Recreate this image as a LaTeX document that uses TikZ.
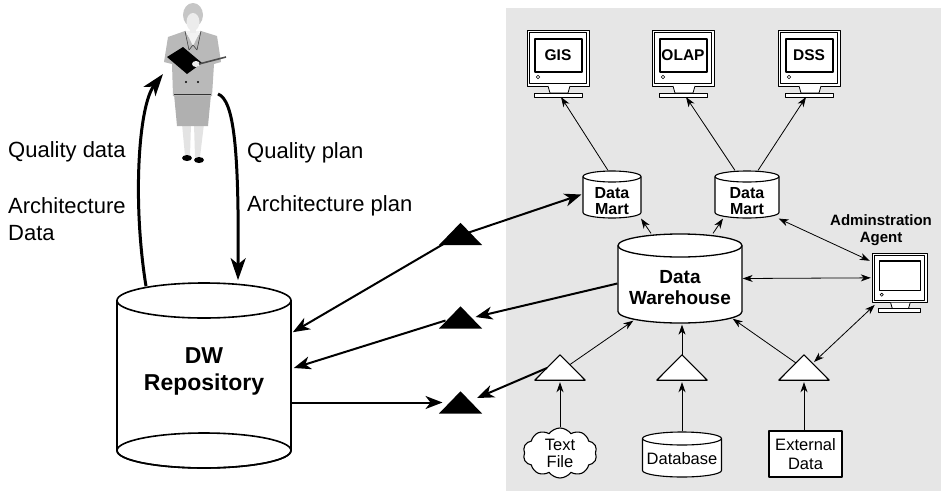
\documentclass[tikz,border=0pt]{standalone}
\usepackage{fontspec}
\setmainfont{Liberation Sans}
\usetikzlibrary{arrows.meta,shapes.symbols,calc}

\definecolor{panel}{HTML}{E6E6E6}

\tikzset{
  outline/.style={line width=1.1pt},
  lbl/.style={inner sep=0pt, font=\fontsize{22}{27}\selectfont},
  thinarrow/.style={line width=0.8pt,-{Stealth[length=10pt,width=7pt,inset=3pt]}},
  thinboth/.style={line width=0.8pt,{Stealth[length=10pt,width=7pt,inset=3pt]}-{Stealth[length=10pt,width=7pt,inset=3pt]}},
  heavyarrow/.style={line width=2pt,-{Stealth[length=17pt,width=13pt,inset=5pt]}},
  heavyboth/.style={line width=2pt,{Stealth[length=17pt,width=13pt,inset=5pt]}-{Stealth[length=17pt,width=13pt,inset=5pt]}},
  heavyplain/.style={line width=2pt},
  curvearrow/.style={line width=3pt,-{Stealth[length=22pt,width=15pt,inset=6pt]}},
  hub/.style={inner sep=0pt, minimum width=50pt, minimum height=25pt},
  relay/.style={inner sep=0pt, minimum width=43pt, minimum height=22pt},
}

% vertical drum: name, centre x, centre y, x radius, half height, y radius of the lids
\newcommand\drum[6]{%
  \filldraw[fill=white] ({#2-#4},{#3-#5+#6}) -- ({#2-#4},{#3+#5-#6})
     arc[start angle=180,end angle=0,x radius=#4,y radius=#6]
     -- ({#2+#4},{#3-#5+#6})
     arc[start angle=0,end angle=-180,x radius=#4,y radius=#6] -- cycle;
  \draw ({#2-#4},{#3-#5+#6}) arc[start angle=180,end angle=0,x radius=#4,y radius=#6];
  \node[inner sep=0pt,minimum width={2*#4pt},minimum height={2*#5pt}] (#1) at (#2,#3) {};
}

% desktop monitor: name, left x, top y, scale, screen text
\newcommand\monitor[5]{%
  \begin{scope}[shift={(#2,#3)},scale=#4]
    \draw[fill=white,line width=1pt] (0,0) rectangle (62,56);
    \draw[line width=0.6pt] (2.5,2.5) rectangle (59.5,53.5);
    \draw[line width=1.2pt] (8,9) rectangle (55,42);
    \draw[line width=0.6pt] (11,47) circle[radius=1.8];
    \draw[fill=white,line width=0.8pt] (21,56) -- (23,63) -- (41,63) -- (43,56);
    \draw[fill=white,line width=0.8pt] (7,63) rectangle (55,67);
    \node[inner sep=0pt,minimum width={62pt*#4},minimum height={56pt*#4}] (#1) at (31,28) {};
    \coordinate (#1-b) at (31,67);
    \node[font=\bfseries\fontsize{15.5}{16}\selectfont] at (31,25.5) {#5};
  \end{scope}}

\begin{document}
\begin{tikzpicture}[x=1pt,y=-1pt,line join=round]
\useasboundingbox (0,0) rectangle (942,493);

% grey panel behind the warehouse side
\fill[panel] (506,8) rectangle (941,491);

% the quality manager
\node[inner sep=0pt,minimum width=62pt,minimum height=160pt] (person) at (194,82) {};
\begin{scope}
  \fill[gray!22] (182,124) -- (191,124) -- (190,156) -- (185,156) -- cycle;
  \fill[gray!22] (194,124) -- (204,124) -- (200,157) -- (195,157) -- cycle;
  \fill[black] (187,158) ellipse[x radius=5,y radius=3];
  \fill[black] (199,160) ellipse[x radius=5,y radius=3];
  \fill[gray!62] (174,94) -- (211,94) -- (208,126) -- (177,126) -- cycle;
  \fill[gray!55] (168,37) -- (185,31) -- (193,44) -- (201,31) -- (217,36) -- (221,62)
     -- (214,64) -- (212,96) -- (173,96) -- (172,64) -- (164,62) -- cycle;
  \fill[gray!10] (186,31) -- (200,31) -- (193,46) -- cycle;
  \draw[gray!40!black,line width=0.5pt] (185,31) -- (189,50) -- (193,45) -- (197,50) -- (201,31);
  \draw[gray!40!black,line width=0.5pt] (174,94) -- (211,94);
  \fill[gray!45] (193,15) ellipse[x radius=10,y radius=12];
  \fill[gray!15] (193,22) ellipse[x radius=6.5,y radius=9];
  \fill[gray!15] (190,28) rectangle (196,33);
  \fill[black] (167,57) -- (183,47) -- (202,63) -- (187,74) -- cycle;
  \fill[gray!15] (196,64) ellipse[x radius=4,y radius=3];
  \draw[gray!60!black,line width=1.6pt] (199,64) -- (226,57);
  \fill (186,82) circle[radius=1.1];
  \fill (198,82) circle[radius=1.1];
\end{scope}

% labels of the two loops
\node[lbl,anchor=west] (qd) at (8,152) {Quality data};
\node[lbl,anchor=west,align=left] (ad) at (8,219.5) {Architecture\\Data};
\node[lbl,anchor=west] (qp) at (247,153) {Quality plan};
\node[lbl,anchor=west] (ap) at (247,206) {Architecture plan};

% repository
\begin{scope}[line width=1.6pt]
  \drum{repo}{204}{375.5}{87}{92.5}{17.5}
  \draw (204,450.5) ellipse[x radius=87,y radius=17.5];
\end{scope}
\node[font=\bfseries\fontsize{23}{27}\selectfont,align=center] at (204,371.5) {DW\\Repository};

% warehouse and marts
\begin{scope}[line width=1.3pt]
  \drum{dw}{680}{278.5}{62}{44.5}{11.5}
\end{scope}
\node[font=\bfseries\fontsize{19}{21}\selectfont,align=center] at (680,288) {Data\\Warehouse};
\begin{scope}[outline]
  \drum{dml}{612}{194.5}{29}{23.5}{5.5}
  \drum{dmr}{747}{194.5}{32}{23.5}{5.5}
  \drum{db}{682}{454.5}{39.5}{22.5}{6.5}
\end{scope}
\node[font=\bfseries\fontsize{16}{16}\selectfont,align=center] at (612,201) {Data\\Mart};
\node[font=\bfseries\fontsize{16}{16}\selectfont,align=center] at (747,201) {Data\\Mart};
\node[font=\fontsize{16.5}{18}\selectfont] at (682,459) {Database};

% front-end tools and the administration console
\monitor{gis}{527}{30}{1}{GIS}
\monitor{olap}{652}{30}{1}{OLAP}
\monitor{dss}{778}{30}{1}{DSS}
\monitor{admin}{872}{253}{0.887}{}
\node[font=\bfseries\fontsize{15}{17}\selectfont,align=center] (adminlbl) at (881,230) {Adminstration\\Agent};

% extraction hubs
\node[hub] (t1) at (560,367.5) {};
\node[hub] (t2) at (682,367.5) {};
\node[hub] (t3) at (804,367.5) {};
\foreach \t in {t1,t2,t3}
  \draw[outline,fill=white] (\t.south west) -- (\t.north) -- (\t.south east) -- cycle;

% sources
\node[cloud,draw,fill=white,outline,cloud puffs=10,cloud puff arc=110,aspect=1.5,
      minimum width=74pt,minimum height=50pt,inner sep=0pt,align=center,
      font=\fontsize{16.5}{17}\selectfont] (tf) at (560,453) {Text\\File};
\node[draw,fill=white,outline,minimum width=73pt,minimum height=46pt,inner sep=0pt,
      align=center,font=\fontsize{16.5}{19}\selectfont] (ext) at (805.5,454) {External\\Data};

% relay points between repository and warehouse side
\node[relay] (r1) at (460.5,234) {};
\node[relay] (r2) at (460.5,317.5) {};
\node[relay] (r3) at (460.5,402.5) {};

% thin connectors on the warehouse side
\draw[thinarrow] ([xshift=-4]dml.north) -- ([xshift=3]gis-b);
\draw[thinarrow] ([xshift=-12]dmr.north) -- ([xshift=3]olap-b);
\draw[thinarrow] ([xshift=11]dmr.north) -- ([xshift=-3]dss-b);
\draw[thinarrow] ([xshift=-29]dw.north) -- ([xshift=29]dml.south);
\draw[thinarrow] ([xshift=33]dw.north) -- ([xshift=-24]dmr.south);
\draw[thinboth] ([xshift=-1]dmr.south east) -- ([shift={(-2,8)}]admin.north west);
\draw[thinboth] (dw.east) -- ([xshift=-1]admin.west);
\draw[thinarrow] ([shift={(10,-3)}]t1.center) -- ([shift={(16,-3)}]dw.south west);
\draw[thinarrow] (t2.north) -- ([yshift=-1]t2.north |- dw.south);
\draw[thinarrow] ([shift={(-8,-4.5)}]t3.center) -- ([shift={(-10,-5)}]dw.south east);
\draw[thinboth] ([shift={(10,-5.5)}]t3.center) -- ([shift={(3,2)}]admin.south west);
\draw[thinarrow] (tf.north) -- ([yshift=-2]tf.north |- t1.south);
\draw[thinarrow] (db.north) -- ([yshift=-2]db.north |- t2.south);
\draw[thinarrow] (t3.south |- ext.north) -- ([yshift=-2]t3.south);

% heavy connectors through the relay points
\draw[heavyboth] ([shift={(1,50)}]repo.north east) -- ([shift={(-5,3)}]r1.center) -- ([xshift=-1]dml.west);
\draw[heavyarrow] ([shift={(0,5)}]dw.west) -- ([shift={(15,-0.5)}]r2.center);
\draw[heavyarrow] ([shift={(-15,3)}]r2.center) -- ([shift={(2,-7.5)}]repo.east);
\draw[heavyarrow] (repo.east |- r3.center) -- ([xshift=-18]r3.center);
\draw[heavyarrow] ([shift={(-13,0.5)}]t1.center) -- ([shift={(16.5,-4.5)}]r3.center);
\foreach \r in {r1,r2,r3}
  \fill[black] (\r.south west) -- (\r.north) -- (\r.south east) -- cycle;

% loops between repository and manager
\draw[curvearrow] ([shift={(-58,4)}]repo.north) .. controls +(-14,-87) and +(-24,31) .. ([shift={(-31,-8)}]person.center);
\draw[curvearrow] ([shift={(24,12)}]person.center) .. controls +(16,6) and +(1,-131) .. ([shift={(34,-2)}]repo.north);

\end{tikzpicture}
\end{document}
